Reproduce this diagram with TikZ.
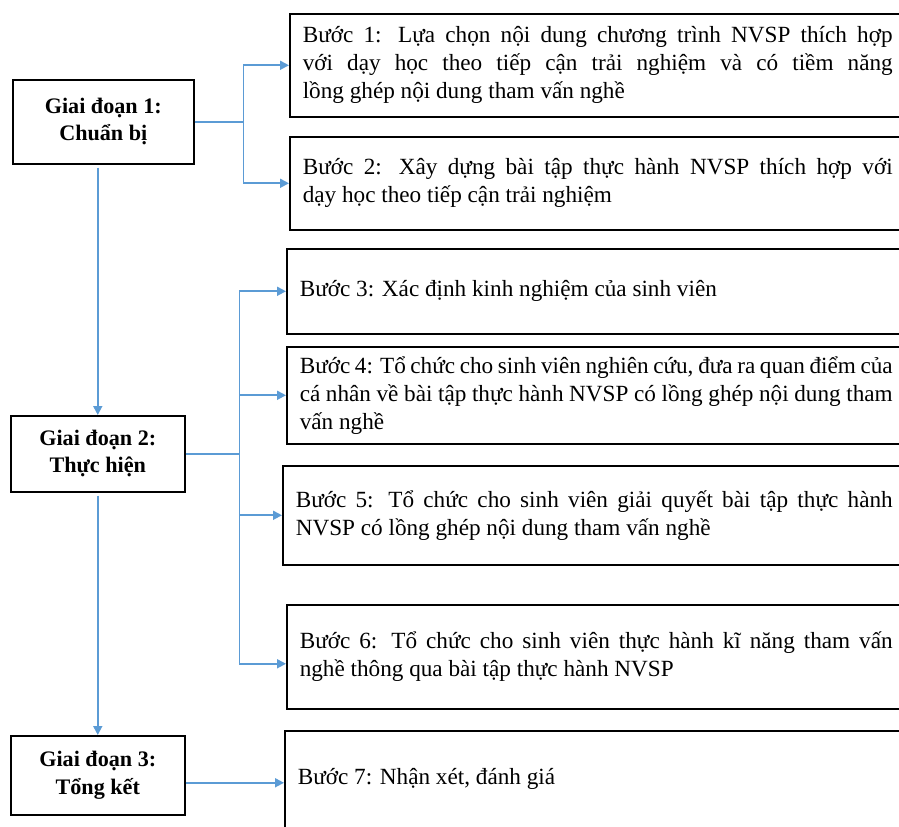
\documentclass[tikz,border=0pt]{standalone}
\usepackage{fontspec}
\setmainfont{Liberation Serif}
\usetikzlibrary{positioning, arrows.meta}
\definecolor{flowblue}{RGB}{91,155,213}

\begin{document}
\begin{tikzpicture}[x=0.02cm, y=-0.02cm,
		stagebox/.style={draw, line width=0.9pt, anchor=north west, align=center, inner sep=0pt,
			font=\fontsize{12.6}{15.5}\selectfont\bfseries},
		stepbox/.style={draw, line width=0.9pt, anchor=north west, align=justify, inner xsep=0.26cm, inner ysep=0pt,
			font=\fontsize{13.2}{16}\selectfont},
		link/.style={draw=flowblue, line width=1pt},
		flow/.style={link, -{Triangle[length=0.18cm, width=0.18cm]}}
	]
					\useasboundingbox (0,0) rectangle (899,827);
					\clip (0,0) rectangle (899,827);

					\node[stagebox, minimum width=3.62cm, minimum height=1.68cm] (g1) at (12,79) {Giai đoạn 1:\\Chuẩn bị};
					\node[stagebox, minimum width=3.48cm, minimum height=1.52cm] (g2) at (10,415) {Giai đoạn 2:\\Thực hiện};
					\node[stagebox, minimum width=3.48cm, minimum height=1.58cm] (g3) at (10,735) {Giai đoạn 3:\\Tổng kết};

					\node[stepbox, text width=11.8cm, minimum height=2.06cm] (b1) at (289,13)
						{Bước 1: Lựa chọn nội dung chương trình NVSP thích hợp\linebreak với dạy học theo tiếp cận trải nghiệm và có tiềm năng\linebreak lồng ghép nội dung tham vấn nghề};
					\node[stepbox, text width=11.8cm, minimum height=1.86cm] (b2) at (289,136)
						{Bước 2: Xây dựng bài tập thực hành NVSP thích hợp với\linebreak dạy học theo tiếp cận trải nghiệm};
					\node[stepbox, text width=11.86cm, minimum height=1.7cm] (b3) at (286,248)
						{Bước 3: Xác định kinh nghiệm của sinh viên};
					\node[stepbox, text width=11.86cm, minimum height=1.94cm] (b4) at (286,346)
						{Bước 4: Tổ chức cho sinh viên nghiên cứu, đưa ra quan điểm của\linebreak cá nhân về bài tập thực hành NVSP có lồng ghép nội dung tham\linebreak vấn nghề};
					\node[stepbox, text width=11.94cm, minimum height=1.98cm] (b5) at (282,465)
						{Bước 5: Tổ chức cho sinh viên giải quyết bài tập thực hành\linebreak NVSP có lồng ghép nội dung tham vấn nghề};
					\node[stepbox, text width=11.86cm, minimum height=2.08cm] (b6) at (286,604)
						{Bước 6: Tổ chức cho sinh viên thực hành kĩ năng tham vấn\linebreak nghề thông qua bài tập thực hành NVSP};
					\node[stepbox, text width=11.9cm, minimum height=2.4cm] (b7) at (284,730)
						{Bước 7: Nhận xét, đánh giá\\\mbox{}};

					\draw[link] (g1.east) -- ++(49,0) coordinate (j1);
					\draw[flow] (j1) |- (b1.west);
					\draw[flow] (j1) |- (b2.west);

					\draw[link] (g2.east) -- ++(54,0) coordinate (j2);
					\draw[flow] (j2) |- (b3.west);
					\draw[flow] (j2) |- (b4.west);
					\draw[flow] (j2) |- (b5.west);
					\draw[flow] (j2) |- ([yshift=-0.14cm]b6.west);

					\draw[flow] ([yshift=-0.15cm]g3.east) -- ([yshift=-0.15cm]g3.east -| b7.west);

					\draw[flow] ([yshift=-0.06cm]g2.north |- g1.south) -- (g2.north);
					\draw[flow] ([yshift=-0.06cm]g2.south) -- (g3.north);
				\end{tikzpicture}
\end{document}
